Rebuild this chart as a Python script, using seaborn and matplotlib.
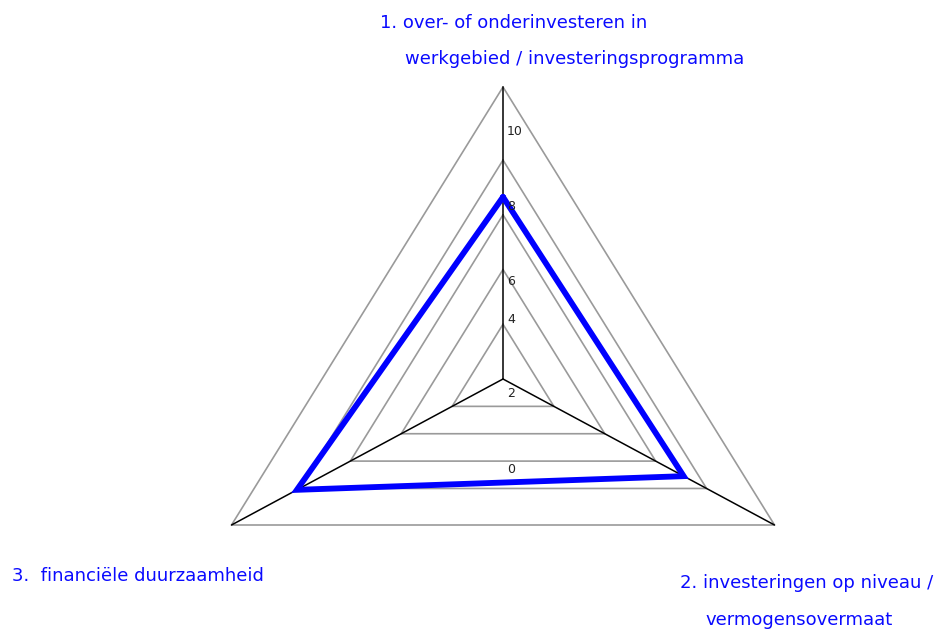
import numpy as np
import matplotlib
matplotlib.use("Agg")
import matplotlib.pyplot as plt
import seaborn as sns
import pandas as pd


categories = [
    "1. over- of onderinvesteren in\nwerkgebied / investeringsprogramma",
    "2. investeringen op niveau /\nvermogensovermaat",
    "3.  financiële duurzaamheid",
]
scores = [6.65, 7.1, 8.1]
ring_values = [2, 4, 6, 8]
r_max = 10.67
tick_labels = ["10", "8", "6", "4", "2", "0"]

# pixel layout (from the top-left of the 945x630 canvas)
W, H = 945, 630
tick_pos = [(507, 135), (507, 210), (507, 285), (507, 323), (507, 397), (507, 473)]
label_pos = [
    [(380, 28), (405, 64)],
    [(680, 588), (705, 625)],
    [(12, 581)],
]

sns.set_theme(style="white")
plt.rcParams["font.family"] = ["DejaVu Sans"]

fig = plt.figure(figsize=(W / 100, H / 100), dpi=100)
cx, cy, rx, ry = 503, 379, 313.5, 292
ax = fig.add_axes([(cx - rx) / W, (H - cy - ry) / H, 2 * rx / W, 2 * ry / H],
                  projection="polar")
ax.set_aspect("auto")
ax.set_theta_offset(np.pi / 2)
ax.set_theta_direction(-1)
ax.set_ylim(0, r_max)
ax.set_axis_off()

theta = np.linspace(0, 2 * np.pi, len(categories), endpoint=False)
closed = np.append(theta, theta[0])

# triangular grid
for r in ring_values + [r_max]:
    ax.plot(closed, [r] * len(closed), color="#9a9a9a", lw=1.2, clip_on=False, zorder=1)

# spokes
for t in theta:
    ax.plot([t, t], [0, r_max], color="black", lw=1.1, clip_on=False, zorder=2)

df = pd.DataFrame({"theta": closed, "score": scores + scores[:1]})
sns.lineplot(data=df, x="theta", y="score", sort=False, estimator=None, ax=ax,
             color="#0000ff", lw=4.2, zorder=3, clip_on=False)
ax.get_lines()[-1].set_solid_joinstyle("miter")

for lab, (px, py) in zip(tick_labels, tick_pos):
    fig.text(px / W, 1 - py / H, lab, fontsize=9, color="#222222",
             ha="left", va="baseline")

for cat, positions in zip(categories, label_pos):
    for text, (px, py) in zip(cat.split("\n"), positions):
        fig.text(px / W, 1 - py / H, text, fontsize=13, color="#0a0aff",
                 ha="left", va="baseline")

fig.savefig("out.png", dpi=100)
